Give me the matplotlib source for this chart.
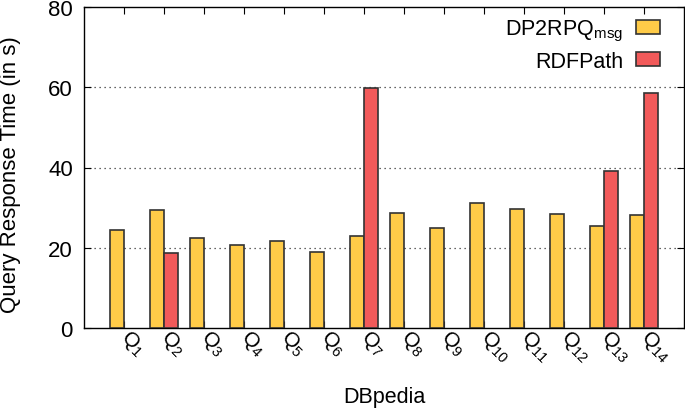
import numpy as np
import matplotlib
matplotlib.use("Agg")
import matplotlib.pyplot as plt

plt.rcParams["font.family"] = ["Liberation Sans", "DejaVu Sans"]
plt.rcParams["mathtext.fontset"] = "custom"
plt.rcParams["mathtext.rm"] = "Liberation Sans"
plt.rcParams["mathtext.it"] = "Liberation Sans"

queries = ["1", "2", "3", "4", "5", "6", "7", "8", "9", "10", "11", "12", "13", "14"]
dp2rpq = [24.3, 29.3, 22.4, 20.6, 21.7, 19.0, 22.9, 28.7, 24.8, 31.2, 29.6, 28.3, 25.3, 28.2]
rdfpath = [np.nan, 18.6, np.nan, np.nan, np.nan, np.nan, 59.8, np.nan, np.nan, np.nan, np.nan, np.nan, 39.1, 58.5]

x = np.arange(len(queries))
w = 0.34

fig = plt.figure(figsize=(6.85, 4.10), dpi=100)
ax = fig.add_axes([84 / 685, 1 - 329 / 410, 600 / 685, 321 / 410])

ax.bar(x - w / 2, dp2rpq, w, color="#FFCB48", edgecolor="#333333", linewidth=1.2,
       label=r"DP2RPQ$_{\mathrm{msg}}$", zorder=3)
ax.bar(x + w / 2, rdfpath, w, color="#F25A5A", edgecolor="#333333", linewidth=1.2,
       label="RDFPath", zorder=3)

ax.set_xlim(-1, 14)
ax.set_ylim(0, 80)
ax.set_yticks([0, 20, 40, 60, 80])
ax.set_xticks(x)
# rotated labels, anchored at their left-middle so they start at the tick
ax.set_xticklabels([r"Q$_{%s}$" % q for q in queries], rotation=-45,
                   ha="left", va="center", rotation_mode="anchor", fontsize=15)
ax.tick_params(axis="x", pad=4)
ax.tick_params(axis="both", direction="in", length=5, top=True, right=True)
ax.tick_params(axis="y", labelsize=16, pad=8)

for yv in [20, 40, 60]:
    ax.axhline(yv, color="#333333", linestyle=(0, (1, 3)), linewidth=0.9, zorder=1)

for s in ax.spines.values():
    s.set_linewidth(1.0)

ax.set_ylabel("Query Response Time (in s)", fontsize=16)
ax.yaxis.set_label_coords(-0.122, 0.48)
ax.yaxis.label.set_va("center")
ax.set_xlabel("DBpedia", fontsize=15.5)
ax.xaxis.set_label_coords(0.5, -0.23)
ax.xaxis.label.set_va("baseline")

ax.legend(loc="upper right", bbox_to_anchor=(0.96, 0.965), frameon=False, markerfirst=False,
          fontsize=15.5, handlelength=1.1, handleheight=0.63, labelspacing=0.35,
          handletextpad=0.6, borderpad=0, borderaxespad=0)

fig.savefig("out.png", dpi=100)
